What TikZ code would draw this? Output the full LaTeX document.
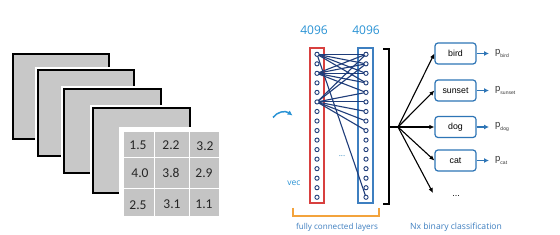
\documentclass[tikz,border=0pt]{standalone}
\usepackage{fontspec}
\setmainfont{Liberation Sans}
\newfontfamily\calfont{Carlito}
\newfontfamily\segfont{Open Sans}
\usetikzlibrary{arrows.meta}
\definecolor{fblue}{HTML}{2A93D5}
\definecolor{fred}{HTML}{D8403F}
\definecolor{frect}{HTML}{3E7FC0}
\definecolor{navy}{HTML}{1F3D7A}
\definecolor{bbox}{HTML}{2E75B6}
\definecolor{orng}{HTML}{F3A33C}
\definecolor{sqgray}{HTML}{C8C8C8}
\definecolor{cellgray}{HTML}{C4C4C4}
\definecolor{ptext}{HTML}{333333}
\tikzset{
  sq/.style={draw=black,line width=1.2pt,fill=sqgray},
  halo/.style={fill=white},
  num/.style={font=\calfont\fontsize{13.5}{14}\selectfont,text=black!85,inner sep=0pt},
  neur/.style={circle,draw=navy,fill=white,line width=0.9pt,minimum size=4.2pt,inner sep=0pt},
  conn/.style={navy,line width=1.1pt},
  lbl/.style={font=\segfont\fontsize{12}{12}\selectfont,text=fblue,inner sep=0pt},
  small/.style={font=\segfont\fontsize{8.1}{9}\selectfont,text=frect,inner sep=0pt},
  cls/.style={draw=bbox,line width=1.2pt,rounded corners=3pt,fill=white,minimum width=41pt,minimum height=21pt,inner sep=0pt,font=\fontsize{8.8}{9}\selectfont},
  bar/.style={-{Latex[length=5pt,width=4.5pt]},line width=1.1pt,black},
  barb/.style={-{Latex[length=5pt,width=5pt]},line width=1.2pt,bbox},
  plab/.style={anchor=west,inner sep=0pt,text=ptext,font=\fontsize{9.5}{10}\selectfont}
}
\newcommand{\sub}[1]{\raisebox{-2.2pt}{\fontsize{5}{5}\selectfont #1}}
\begin{document}
\begin{tikzpicture}[x=1pt,y=-1pt]
\useasboundingbox (0,0) rectangle (560,235);
\fill[white] (0,0) rectangle (560,235);
% stacked feature maps
\foreach \a/\b/\c/\d in {13/54/109/139, 38/70/134/156, 64/89/161/173, 93/108/190/193}{
  \fill[halo] (\a-3,\b-3) rectangle (\c+1,\d+1);
  \draw[sq] (\a,\b) rectangle (\c,\d);
}
% table
\fill[white] (119,127) rectangle (224,221);
\fill[cellgray] (124,132) rectangle (219,216);
\draw[white,line width=1.3pt] (154.5,132) -- (154.5,216) (189.5,132) -- (189.5,216)
  (124,157.5) -- (219,157.5) (124,188.5) -- (219,188.5);
\node[num] (t11) at (138,145) {1.5};
\node[num] (t12) at (171,145) {2.2};
\node[num] (t13) at (205,146) {3.2};
\node[num] (t21) at (140,173) {4.0};
\node[num] (t22) at (171,173) {3.8};
\node[num] (t23) at (204,173) {2.9};
\node[num] (t31) at (138,205) {2.5};
\node[num] (t32) at (172,204) {3.1};
\node[num] (t33) at (204,204) {1.1};
% labels 4096
\node[lbl] (n1) at (314,30) {4096};
\node[lbl] (n2) at (366,30) {4096};
% layer rectangles
\draw[fred,line width=1.4pt] (310,48) rectangle (324,203);
\draw[frect,line width=1.4pt] (358,48) rectangle (373,203);
% neuron coordinates
\foreach \i in {0,...,15}{
  \coordinate (L\i) at (317,54.3+9.53*\i);
  \coordinate (R\i) at (366,54.3+9.53*\i);
}
% connections
\foreach \l/\r in {0/0,0/1,0/2,0/3,0/15,2/0,2/1,2/2,2/3,2/4,5/0,5/1,5/4,5/5,5/6,5/7,5/8}{
  \draw[conn] (L\l) -- (R\r);
}
\foreach \i in {0,...,15}{
  \node[neur] (cl\i) at (L\i) {};
  \node[neur] (cr\i) at (R\i) {};
}
\node[small,text=fblue!80!gray] (dots1) at (342,156) {...};
\node[small,text=fblue,font=\segfont\fontsize{8.5}{9}\selectfont] (vec) at (294,183) {vec};
% curved arrow
\coordinate (ca1) at (273,117.5);
\coordinate (ca2) at (292.5,115.5);
\draw[fblue,line width=1.5pt,-{Latex[length=5pt,width=5pt]}] (ca1) .. controls (277,112) and (285,110) .. (ca2);
% orange bracket
\coordinate (o1) at (293,208);
\coordinate (o2) at (379,208);
\draw[orng,line width=1.3pt] (o1) -- ++(0,8) -| (o2);
\node[small] (fcl) at (337,227) {fully connected layers};
% black bracket
\coordinate (bt) at (383,49);
\coordinate (bb) at (383,204);
\coordinate (hub) at (398,127);
\draw[black,line width=1.3pt] (bt) -- (389,49) -- (389,204) -- (bb);
\draw[black,line width=1.3pt] (389,127) -- (hub);
% class boxes
\node[cls] (bird) at (455.5,53.5) {bird};
\node[cls] (sunset) at (455.5,90.5) {sunset};
\node[cls] (dog) at (455.5,127) {dog};
\node[cls] (cat) at (455.5,160.5) {cat};
\coordinate (more) at (433,193);
\node[inner sep=0pt,font=\fontsize{9}{9}\selectfont] (dots2) at (456,196) {...};
\foreach \n in {bird,sunset,dog,cat}{
  \draw[bar] (hub) -- (\n.west);
}
\draw[bar] (hub) -- (more);
% outputs
\foreach \n/\y in {bird/53.5,sunset/90.5,dog/127,cat/160.5}{
  \coordinate (o\n) at (489,\y);
  \draw[barb] (\n.east) -- (o\n);
  \node[plab] (p\n) at (495,\y) {p\sub{\n}};
}
\node[small,text=frect,font=\segfont\fontsize{8.6}{9}\selectfont] (nx) at (456,227) {Nx binary classification};
\end{tikzpicture}
\end{document}
